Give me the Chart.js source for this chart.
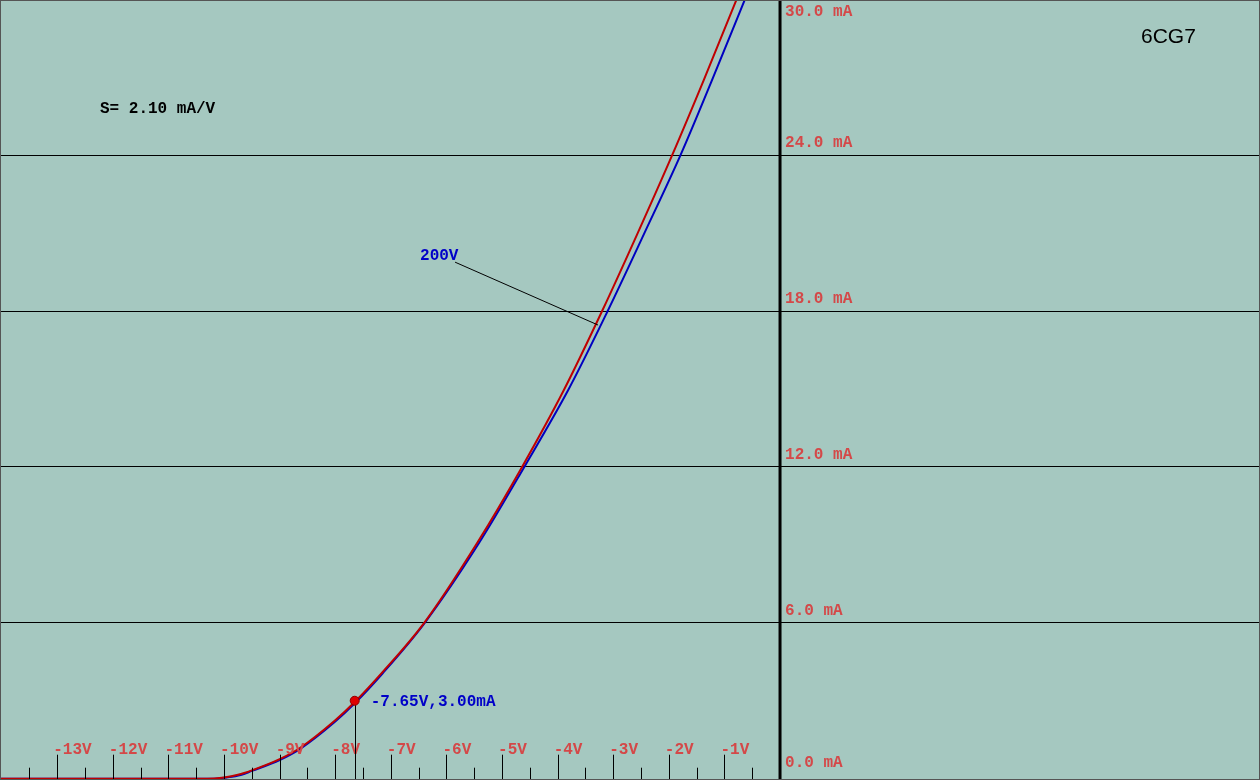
<!DOCTYPE html>
<html>
<head>
<meta charset="utf-8">
<style>
  html, body { margin: 0; padding: 0; background: #ffffff; }
  canvas { display: block; }
</style>
<script src="https://cdn.jsdelivr.net/npm/chart.js@4.4.1/dist/chart.umd.min.js"></script>
</head>
<body>
<canvas id="c" width="1260" height="780"></canvas>
<script>
// ---- data (grid voltage in V, anode current in mA) ----
const redV  = [-14.03, -10.3, -10.0, -9.75, -9.5, -9.0, -8.63, -8.0, -7.65, -7.15, -6.40, -5.44, -4.64, -3.89, -3.20, -2.56, -1.94, -1.37, -0.78, -0.5];
const redI  = [0, 0, 0.05, 0.15, 0.32, 0.75, 1.19, 2.25, 2.95, 4.10, 6.0, 9.1, 12.0, 14.95, 18.0, 21.0, 24.0, 26.9, 30.0, 31.5];
const blueV = [-14.03, -10.25, -9.95, -9.7, -9.5, -9.0, -8.63, -8.0, -7.65, -7.15, -6.40, -5.42, -4.60, -3.80, -3.10, -2.45, -1.79, -1.24, -0.63, -0.4];
const blueI = [0, 0, 0.05, 0.14, 0.30, 0.72, 1.15, 2.20, 2.90, 4.05, 5.97, 9.05, 12.0, 15.0, 18.0, 20.95, 24.0, 26.8, 30.0, 31.2];

const xMajorTicks = [-13, -12, -11, -10, -9, -8, -7, -6, -5, -4, -3, -2, -1];
const xTickLabels = ['-13V', '-12V', '-11V', '-10V', '-9V', '-8V', '-7V', '-6V', '-5V', '-4V', '-3V', '-2V', '-1V'];
const xMinorTicks = [-13.5, -12.5, -11.5, -10.5, -9.5, -8.5, -7.5, -6.5, -5.5, -4.5, -3.5, -2.5, -1.5, -0.5];
const yTickValues = [0, 6, 12, 18, 24, 30];
const yTickLabels = ['0.0 mA', '6.0 mA', '12.0 mA', '18.0 mA', '24.0 mA', '30.0 mA'];

const markerV = -7.65, markerI = 3.00;
const markerText = '-7.65V,3.00mA';
const curveLabel = '200V';
const labelAnchor = [-5.845, 19.88];   // where the "200V" leader starts (V, mA)
const labelTarget = [-3.273, 17.46];   // where the leader touches the curve (V, mA)
const slopeText = 'S= 2.10 mA/V';
const tubeName = '6CG7';

const toPts = (xs, ys) => xs.map((x, i) => ({ x: x, y: ys[i] }));

const BG = '#a5c8c0';
const LBL_RED = '#d44848';
const MONO = 'bold 16px "Liberation Mono", "DejaVu Sans Mono", monospace';

const decor = {
  id: 'decor',
  beforeDraw(chart) {
    const ctx = chart.ctx;
    ctx.save();
    ctx.fillStyle = BG;
    ctx.fillRect(0, 0, chart.width, chart.height);
    ctx.restore();
  },
  afterDatasetsDraw(chart) {
    const ctx = chart.ctx;
    const xs = chart.scales.x, ys = chart.scales.y;
    const bottom = ys.getPixelForValue(0);
    const x0 = xs.getPixelForValue(0);
    ctx.save();

    // vertical axis line at 0 V
    ctx.strokeStyle = '#000';
    ctx.lineWidth = 3;
    ctx.beginPath();
    ctx.moveTo(x0, 0);
    ctx.lineTo(x0, chart.height);
    ctx.stroke();

    // bottom tick marks
    ctx.lineWidth = 1;
    ctx.beginPath();
    xMajorTicks.forEach(v => {
      const px = Math.round(xs.getPixelForValue(v)) + 0.5;
      ctx.moveTo(px, bottom - 24); ctx.lineTo(px, chart.height);
    });
    xMinorTicks.forEach(v => {
      const px = Math.round(xs.getPixelForValue(v)) + 0.5;
      ctx.moveTo(px, bottom - 11); ctx.lineTo(px, chart.height);
    });
    ctx.stroke();

    // x tick labels
    ctx.font = MONO;
    ctx.fillStyle = LBL_RED;
    ctx.textBaseline = 'middle';
    ctx.textAlign = 'left';
    xMajorTicks.forEach((v, i) => {
      ctx.fillText(xTickLabels[i], xs.getPixelForValue(v) - 4, bottom - 29);
    });

    // y tick labels
    yTickValues.forEach((v, i) => {
      let py = ys.getPixelForValue(v) - 12;
      py = Math.min(Math.max(py, 12), 763);
      ctx.fillText(yTickLabels[i], x0 + 5, py);
    });

    // marker drop line + marker
    const mx = xs.getPixelForValue(markerV), my = ys.getPixelForValue(markerI);
    ctx.strokeStyle = '#000';
    ctx.lineWidth = 1;
    ctx.beginPath();
    ctx.moveTo(Math.round(mx) + 0.5, my);
    ctx.lineTo(Math.round(mx) + 0.5, chart.height);
    ctx.stroke();
    ctx.beginPath();
    ctx.arc(mx, my, 4.5, 0, Math.PI * 2);
    ctx.fillStyle = '#e00000';
    ctx.fill();
    ctx.strokeStyle = '#900000';
    ctx.lineWidth = 1;
    ctx.stroke();

    ctx.fillStyle = '#0000c8';
    ctx.fillText(markerText, mx + 16, my + 1);

    // 200V label and leader
    const ax = xs.getPixelForValue(labelAnchor[0]), ay = ys.getPixelForValue(labelAnchor[1]);
    const tx = xs.getPixelForValue(labelTarget[0]), ty = ys.getPixelForValue(labelTarget[1]);
    ctx.strokeStyle = '#000';
    ctx.beginPath();
    ctx.moveTo(ax, ay);
    ctx.lineTo(tx, ty);
    ctx.stroke();
    ctx.fillStyle = '#0000c8';
    ctx.fillText(curveLabel, ax - 35, ay - 6);

    // slope text
    ctx.fillStyle = '#000';
    ctx.fillText(slopeText, 100, 109);

    // tube name
    ctx.font = '21px "Liberation Sans", Arial, sans-serif';
    ctx.fillText(tubeName, 1141, 37);

    // frame
    ctx.strokeStyle = '#555';
    ctx.lineWidth = 1;
    ctx.strokeRect(0.5, 0.5, chart.width - 1, chart.height - 1);
    ctx.restore();
  }
};

new Chart(document.getElementById('c'), {
  type: 'line',
  data: {
    datasets: [
      {
        label: 'red',
        data: toPts(redV, redI),
        borderColor: '#c00000',
        borderWidth: 2,
        pointRadius: 0,
        cubicInterpolationMode: 'monotone',
        fill: false
      },
      {
        label: '200V',
        data: toPts(blueV, blueI),
        borderColor: '#0000c0',
        borderWidth: 2,
        pointRadius: 0,
        cubicInterpolationMode: 'monotone',
        fill: false
      }
    ]
  },
  options: {
    responsive: false,
    animation: false,
    devicePixelRatio: 1,
    layout: { padding: 0 },
    plugins: { legend: { display: false }, tooltip: { enabled: false }, title: { display: false } },
    scales: {
      x: {
        type: 'linear',
        min: -14.03,
        max: 8.633,
        display: false
      },
      y: {
        type: 'linear',
        min: -0.05,
        max: 29.97,
        display: true,
        afterBuildTicks(scale) {
          scale.ticks = yTickValues.map(v => ({ value: v }));
        },
        ticks: { display: false },
        border: { display: false },
        grid: {
          drawTicks: false,
          lineWidth: 1,
          color: ctx => (ctx.tick && (ctx.tick.value === 0 || ctx.tick.value === 30)) ? 'rgba(0,0,0,0)' : '#000'
        }
      }
    }
  },
  plugins: [decor]
});
</script>
</body>
</html>
